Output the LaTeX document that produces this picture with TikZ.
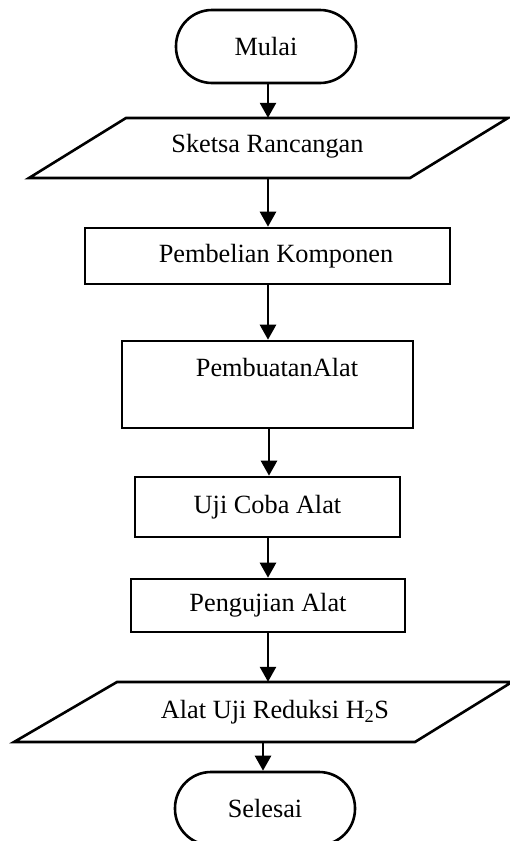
\documentclass[tikz,border=0pt]{standalone}
\usepackage{fontspec}
\setmainfont{Liberation Serif}
\usetikzlibrary{arrows.meta}
\begin{document}
\begin{tikzpicture}[x=1pt,y=-1pt,
  every node/.style={font=\fontsize{26.3}{30}\selectfont, inner sep=0pt},
  lw/.style={line width=2.6pt},
  box/.style={lw, draw, rectangle},
  term/.style={lw, draw, rectangle, rounded corners=36pt},
  ghost/.style={rectangle},
  arr/.style={lw, -{Triangle[width=16pt,length=15pt]}}]
\useasboundingbox (0,0) rectangle (509,841);
\fill[white] (0,0) rectangle (509,841);
% nodes
\node[term, minimum width=180pt, minimum height=73pt] (mul) at (266,46.5) {Mulai};
\node[ghost, minimum width=300pt, minimum height=60pt] (sk) at (268,148) {};
\node at (267.5,146) {Sketsa Rancangan};
\draw[lw, line join=miter] (126,118) -- (508,118) -- (410,178) -- (29,178) -- cycle;
\node[box, minimum width=365pt, minimum height=56pt] (pbl) at (267.5,256) {\hspace*{17pt}Pembelian Komponen};
\node[box, minimum width=291pt, minimum height=87pt, align=center] (pbt) at (267.5,384.5) {\hspace*{19pt}PembuatanAlat\\[4pt]~};
\node[box, minimum width=265pt, minimum height=60pt] (ujc) at (267.5,507) {Uji Coba Alat};
\node[box, minimum width=274pt, minimum height=53pt] (pgj) at (268,605.5) {Pengujian Alat};
\node[ghost, minimum width=300pt, minimum height=60pt] (aur) at (266,712) {};
\node at (275,712) {Alat Uji Reduksi H\textsubscript{2}S};
\draw[lw, line join=miter] (117,682) -- (512,682) -- (415,742) -- (14,742) -- cycle;
\node[term, minimum width=180pt, minimum height=73pt] (sls) at (265,808.5) {Selesai};
% arrow columns
\coordinate (ax) at (268,0);
\coordinate (bx) at (269,0);
\coordinate (cx) at (263,0);
\draw[arr] (mul.south -| ax) -- (sk.north -| ax);
\draw[arr] (sk.south -| ax) -- (pbl.north -| ax);
\draw[arr] (pbl.south -| ax) -- (pbt.north -| ax);
\draw[arr] (pbt.south -| bx) -- (ujc.north -| bx);
\draw[arr] (ujc.south -| ax) -- (pgj.north -| ax);
\draw[arr] (pgj.south -| ax) -- (aur.north -| ax);
\draw[arr] (aur.south -| cx) -- (sls.north -| cx);
\end{tikzpicture}
\end{document}
